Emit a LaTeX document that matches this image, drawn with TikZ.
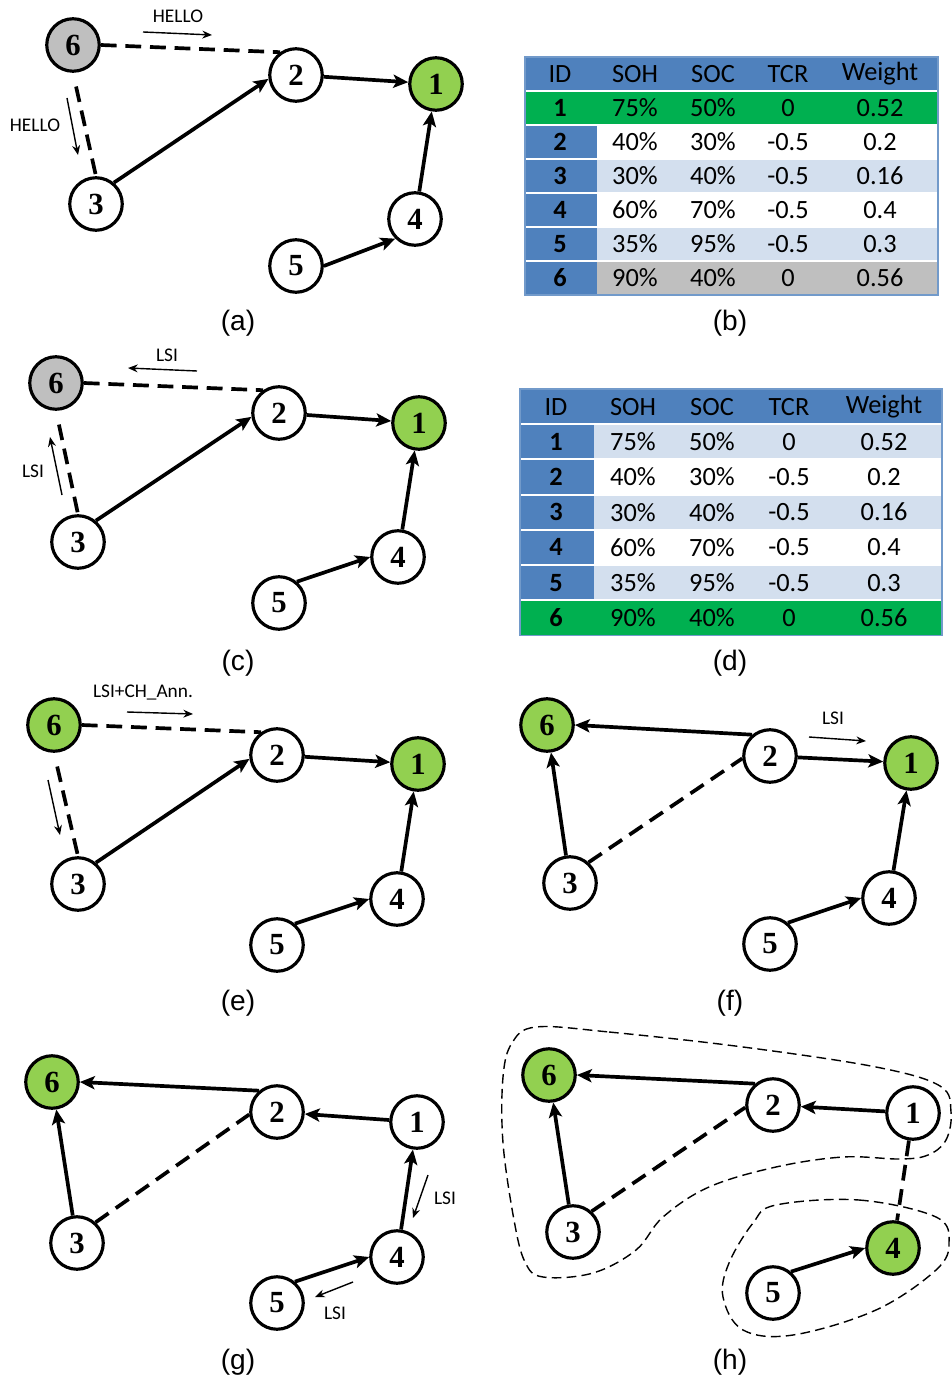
\documentclass[tikz,border=0pt]{standalone}
\usepackage{fontspec}
\setmainfont{Liberation Serif}
\newfontfamily\calfont{Carlito}
\newfontfamily\capfont{Liberation Sans}
\usetikzlibrary{arrows.meta}

\definecolor{nodegreen}{RGB}{146,208,80}
\definecolor{nodegray}{RGB}{191,191,191}
\definecolor{tblue}{RGB}{79,129,189}
\definecolor{tlight}{RGB}{211,223,238}
\definecolor{tgreen}{RGB}{0,176,80}
\definecolor{tgray}{RGB}{191,191,191}

\tikzset{
  sensor/.style={circle, draw, line width=1.8pt, fill=white, minimum size=1.05cm,
                 inner sep=0pt, font=\fontsize{17.5}{20}\selectfont\bfseries},
  chnode/.style={sensor, fill=nodegreen},
  newnode/.style={sensor, fill=nodegray},
  solidlink/.style={line width=2.1pt, -{Stealth[length=8.5pt,width=7.5pt,inset=2pt]}},
  weaklink/.style={line width=2.1pt, dash pattern=on 9pt off 5pt},
  msgarrow/.style={line width=0.8pt, -{Stealth[length=5.5pt,width=4.5pt]}},
  msglabel/.style={font=\calfont\fontsize{11}{13}\selectfont, inner sep=1pt},
  sublabel/.style={font=\capfont\fontsize{16}{18}\selectfont, inner sep=1pt},
  cell/.style={font=\calfont\fontsize{15}{17}\selectfont, inner sep=0pt},
  idcell/.style={cell, font=\calfont\fontsize{15}{17}\selectfont\bfseries},
  clusterline/.style={line width=0.8pt, dash pattern=on 5.5pt off 3pt}
}

\begin{document}
\begin{tikzpicture}[x=0.02cm, y=-0.02cm]
  \useasboundingbox (0,0) rectangle (952,1381);

  % (a) HELLO del nodo nuevo
  \node[newnode] (a6) at (73,45) {6};
  \node[sensor] (a2) at (296,75) {2};
  \node[chnode] (a1) at (436,84) {1};
  \node[sensor] (a3) at (96,204) {3};
  \node[sensor] (a4) at (415,219) {4};
  \node[sensor] (a5) at (296,266) {5};
  \draw[solidlink] (a3.50) -- (a2.188);
  \draw[solidlink] (a2) -- (a1);
  \draw[solidlink] (a4) -- (a1);
  \draw[solidlink] (a5.east) -- (a4.225);
  \draw[weaklink] (a6.east) -- (a2.125);
  \draw[weaklink, shorten <=8pt] (a6.south) -- (a3.north);
  \coordinate (a-m1s) at (143,32); \coordinate (a-m1e) at (212,35);
  \coordinate (a-m2s) at (67,98);  \coordinate (a-m2e) at (78,155);
  \draw[msgarrow] (a-m1s) -- (a-m1e);
  \draw[msgarrow] (a-m2s) -- (a-m2e);
  \node[msglabel] (a-hello1) at (178,16) {HELLO};
  \node[msglabel] (a-hello2) at (35,125) {HELLO};
  \node[sublabel] (a-cap) at (238,323) {(a)};

  % (b) tabla inicial
  \fill[tblue] (525,57) rectangle (938,295);
  \foreach \r/\idc/\bc/\soh/\soc/\tcr/\w in {1/tgreen/tgreen/75/50/0/0.52,
      2/tblue/white/40/30/-0.5/0.2, 3/tblue/tlight/30/40/-0.5/0.16,
      4/tblue/white/60/70/-0.5/0.4, 5/tblue/tlight/35/95/-0.5/0.3,
      6/tblue/tgray/90/40/0/0.56} {
    \fill[\idc] (525,{57+34*\r}) rectangle (597,{57+34*(\r+1)});
    \fill[\bc] (597,{57+34*\r}) rectangle (938,{57+34*(\r+1)});
    \draw[white, line width=1.2pt] (525,{57+34*\r}) -- (938,{57+34*\r});
    \node[idcell] (b-\r-id) at (560,{74+34*\r}) {\r};
    \node[cell] (b-\r-soh) at (635,{74+34*\r}) {\soh\%};
    \node[cell] (b-\r-soc) at (713,{74+34*\r}) {\soc\%};
    \node[cell] (b-\r-tcr) at (788,{74+34*\r}) {\tcr};
    \node[cell] (b-\r-w) at (880,{74+34*\r}) {\w};
  }
  \node[cell] (b-h-id) at (560,74) {ID};
  \node[cell] (b-h-soh) at (635,74) {SOH};
  \node[cell] (b-h-soc) at (713,74) {SOC};
  \node[cell] (b-h-tcr) at (788,74) {TCR};
  \node[cell] (b-h-w) at (880,74) {Weight};
  \draw[tblue!80, line width=1pt] (525,57) rectangle (938,295);
  \node[sublabel] (b-cap) at (730,323) {(b)};

  % (c) LSI hacia el nodo nuevo
  \node[newnode] (c6) at (56,383) {6};
  \node[sensor] (c2) at (279,413) {2};
  \node[chnode] (c1) at (419,423) {1};
  \node[sensor] (c3) at (78,542) {3};
  \node[sensor] (c4) at (398,557) {4};
  \node[sensor] (c5) at (279,603) {5};
  \draw[solidlink] (c3.50) -- (c2.188);
  \draw[solidlink] (c2) -- (c1);
  \draw[solidlink] (c4) -- (c1);
  \draw[solidlink] (c5.50) -- (c4.west);
  \draw[weaklink] (c6.east) -- (c2.125);
  \draw[weaklink, shorten <=8pt] (c6.south) -- (c3.north);
  \coordinate (c-m1s) at (197,371); \coordinate (c-m1e) at (128,368);
  \coordinate (c-m2s) at (62,495);  \coordinate (c-m2e) at (50,437);
  \draw[msgarrow] (c-m1s) -- (c-m1e);
  \draw[msgarrow] (c-m2s) -- (c-m2e);
  \node[msglabel] (c-lsi1) at (167,355) {LSI};
  \node[msglabel] (c-lsi2) at (33,471) {LSI};
  \node[sublabel] (c-cap) at (238,663) {(c)};

  % (d) tabla actualizada
  \fill[tblue] (520,389) rectangle (942,635.4);
  \foreach \r/\idc/\bc/\soh/\soc/\tcr/\w in {1/tblue/tlight/75/50/0/0.52,
      2/tblue/white/40/30/-0.5/0.2, 3/tblue/tlight/30/40/-0.5/0.16,
      4/tblue/white/60/70/-0.5/0.4, 5/tblue/tlight/35/95/-0.5/0.3,
      6/tgreen/tgreen/90/40/0/0.56} {
    \fill[\idc] (520,{389+35.2*\r}) rectangle (594,{389+35.2*(\r+1)});
    \fill[\bc] (594,{389+35.2*\r}) rectangle (942,{389+35.2*(\r+1)});
    \draw[white, line width=1.2pt] (520,{389+35.2*\r}) -- (942,{389+35.2*\r});
    \node[idcell] (d-\r-id) at (556,{406.6+35.2*\r}) {\r};
    \node[cell] (d-\r-soh) at (633,{406.6+35.2*\r}) {\soh\%};
    \node[cell] (d-\r-soc) at (712,{406.6+35.2*\r}) {\soc\%};
    \node[cell] (d-\r-tcr) at (789,{406.6+35.2*\r}) {\tcr};
    \node[cell] (d-\r-w) at (884,{406.6+35.2*\r}) {\w};
  }
  \node[cell] (d-h-id) at (556,406.6) {ID};
  \node[cell] (d-h-soh) at (633,406.6) {SOH};
  \node[cell] (d-h-soc) at (712,406.6) {SOC};
  \node[cell] (d-h-tcr) at (789,406.6) {TCR};
  \node[cell] (d-h-w) at (884,406.6) {Weight};
  \draw[tblue!80, line width=1pt] (520,389) rectangle (942,635.4);
  \node[sublabel] (d-cap) at (730,663) {(d)};

  % (e) anuncio del nuevo CH
  \node[chnode] (e6) at (54,725) {6};
  \node[sensor] (e2) at (277,755) {2};
  \node[chnode] (e1) at (418,764) {1};
  \node[sensor] (e3) at (78,884) {3};
  \node[sensor] (e4) at (397,899) {4};
  \node[sensor] (e5) at (277,945) {5};
  \draw[solidlink] (e3.50) -- (e2.188);
  \draw[solidlink] (e2) -- (e1);
  \draw[solidlink] (e4) -- (e1);
  \draw[solidlink] (e5.50) -- (e4.west);
  \draw[weaklink] (e6.east) -- (e2.125);
  \draw[weaklink, shorten <=8pt] (e6.south) -- (e3.north);
  \coordinate (e-m1s) at (127,712); \coordinate (e-m1e) at (193,714);
  \coordinate (e-m2s) at (48,780);  \coordinate (e-m2e) at (60,835);
  \draw[msgarrow] (e-m1s) -- (e-m1e);
  \draw[msgarrow] (e-m2s) -- (e-m2e);
  \node[msglabel] (e-ann) at (143,693) {LSI+CH\_Ann.};
  \node[sublabel] (e-cap) at (238,1003) {(e)};

  % (f) el nodo 2 se une al nuevo CH
  \node[chnode] (f6) at (547,725) {6};
  \node[sensor] (f2) at (770,756) {2};
  \node[chnode] (f1) at (911,763) {1};
  \node[sensor] (f3) at (570,883) {3};
  \node[sensor] (f4) at (889,898) {4};
  \node[sensor] (f5) at (770,944) {5};
  \draw[solidlink] (f2.130) -- (f6.east);
  \draw[solidlink] (f3) -- (f6);
  \draw[solidlink] (f2) -- (f1);
  \draw[solidlink] (f4) -- (f1);
  \draw[solidlink] (f5.50) -- (f4.west);
  \draw[weaklink] (f3.48) -- (f2.185);
  \coordinate (f-m1s) at (809,737); \coordinate (f-m1e) at (866,741);
  \draw[msgarrow] (f-m1s) -- (f-m1e);
  \node[msglabel] (f-lsi1) at (833,718) {LSI};
  \node[sublabel] (f-cap) at (730,1003) {(f)};

  % (g) el nodo 1 deja de ser CH
  \node[chnode] (g6) at (52,1082) {6};
  \node[sensor] (g2) at (277,1112) {2};
  \node[sensor] (g1) at (417,1122) {1};
  \node[sensor] (g3) at (77,1243) {3};
  \node[sensor] (g4) at (397,1257) {4};
  \node[sensor] (g5) at (277,1303) {5};
  \draw[solidlink] (g2.130) -- (g6.east);
  \draw[solidlink] (g1) -- (g2);
  \draw[solidlink] (g3) -- (g6);
  \draw[solidlink] (g4) -- (g1);
  \draw[solidlink] (g5.50) -- (g4.west);
  \draw[weaklink] (g3.48) -- (g2.185);
  \coordinate (g-m1s) at (428,1175); \coordinate (g-m1e) at (413,1218);
  \coordinate (g-m2s) at (353,1282); \coordinate (g-m2e) at (315,1297);
  \draw[msgarrow] (g-m1s) -- (g-m1e);
  \draw[msgarrow] (g-m2s) -- (g-m2e);
  \node[msglabel] (g-lsi1) at (445,1198) {LSI};
  \node[msglabel] (g-lsi2) at (335,1313) {LSI};
  \node[sublabel] (g-cap) at (238,1362) {(g)};

  % (h) clusters finales
  \node[chnode] (h6) at (549,1075) {6};
  \node[sensor] (h2) at (773,1105) {2};
  \node[sensor] (h1) at (913,1113) {1};
  \node[sensor] (h3) at (573,1232) {3};
  \node[chnode] (h4) at (893,1248) {4};
  \node[sensor] (h5) at (773,1293) {5};
  \draw[solidlink] (h2.130) -- (h6.east);
  \draw[solidlink] (h1) -- (h2);
  \draw[solidlink] (h3) -- (h6);
  \draw[solidlink] (h5.50) -- (h4.west);
  \draw[weaklink] (h3.48) -- (h2.185);
  \draw[weaklink] (h1) -- (h4);
  \draw[clusterline] plot[smooth cycle, tension=0.6] coordinates {
    (536,1027) (609,1032) (743,1047) (876,1067) (940,1086) (951,1112)
    (946,1140) (928,1155) (900,1159) (843,1157) (776,1167) (709,1187)
    (663,1217) (636,1250) (593,1273) (543,1277) (525,1262) (514,1220)
    (503,1143) (503,1077) (512,1043)};
  \draw[clusterline] plot[smooth cycle, tension=0.6] coordinates {
    (776,1205) (859,1200) (936,1217) (949,1243) (936,1270) (876,1310)
    (793,1335) (743,1330) (723,1297) (729,1263) (753,1223)};
  \node[sublabel] (h-cap) at (730,1362) {(h)};
\end{tikzpicture}
\end{document}
